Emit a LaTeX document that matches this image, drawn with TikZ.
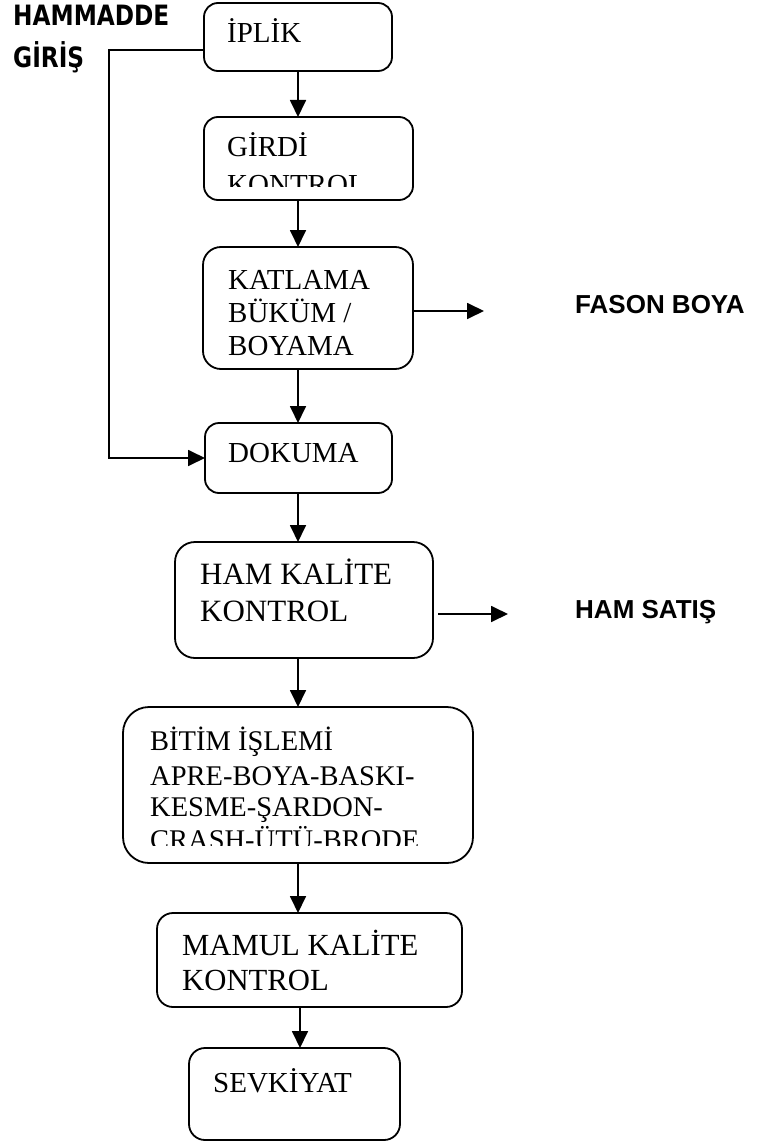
\documentclass[tikz,border=0pt]{standalone}
\usepackage{fontspec}
\setmainfont{Liberation Serif}
\newfontfamily\sidefont{Liberation Sans}
\newfontfamily\headfont{DejaVu Sans}
\newcommand\narrowhead[1]{\scalebox{0.83}[1]{#1}}
\usetikzlibrary{arrows.meta}
\tikzset{
  box/.style={draw, line width=1.8pt, rounded corners=14pt, inner sep=0pt, outer sep=0pt},
  arr/.style={line width=1.8pt, -{Triangle[length=17pt,width=16pt]}},
  lbl/.style={anchor=base west, inner sep=0pt, font=\fontsize{29}{31}\selectfont},
  side/.style={anchor=base west, inner sep=0pt, font=\sidefont\bfseries\fontsize{26}{29}\selectfont},
  head/.style={anchor=base west, inner sep=0pt, font=\headfont\bfseries\fontsize{28}{31}\selectfont},
}
\begin{document}
\begin{tikzpicture}[x=1pt,y=-1pt]
\useasboundingbox (0,0) rectangle (757,1142);

% process boxes
\node[box, minimum width=188pt, minimum height=68pt] (iplik) at (298,37) {};
\node[box, minimum width=209pt, minimum height=83pt] (girdi) at (308.5,158.5) {};
\node[box, minimum width=210pt, minimum height=122pt, rounded corners=18pt] (katlama) at (308,308) {};
\node[box, minimum width=187pt, minimum height=70pt] (dokuma) at (298.5,458) {};
\node[box, minimum width=258pt, minimum height=116pt, rounded corners=20pt] (ham) at (304,600) {};
\node[box, minimum width=350pt, minimum height=156pt, rounded corners=26pt] (bitim) at (298,785) {};
\node[box, minimum width=305pt, minimum height=94pt, rounded corners=16pt] (mamul) at (309.5,960) {};
\node[box, minimum width=211pt, minimum height=92pt, rounded corners=16pt] (sevk) at (294.5,1094) {};

% box texts
\node[lbl] (tiplik) at (227,43) {İPLİK};
\node[lbl] (tgirdi1) at (227,157) {GİRDİ};
\begin{scope}
  \clip (204,117) rectangle (413,187);
  \node[lbl] (tgirdi2) at (227,194) {KONTROL};
\end{scope}
\node[lbl] (tkat1) at (228,289) {KATLAMA};
\node[lbl] (tkat2) at (228,322) {BÜKÜM /};
\node[lbl] (tkat3) at (228,355) {BOYAMA};
\node[lbl] (tdok) at (228,462) {DOKUMA};
\node[lbl, font=\fontsize{31}{33}\selectfont] (tham1) at (200,584) {HAM KALİTE};
\node[lbl, font=\fontsize{31}{33}\selectfont] (tham2) at (200,621) {KONTROL};
\node[lbl, font=\fontsize{28.5}{30}\selectfont] (tbit1) at (150,750) {BİTİM İŞLEMİ};
\node[lbl, font=\fontsize{28.5}{30}\selectfont] (tbit2) at (150,785) {APRE-BOYA-BASKI-};
\node[lbl, font=\fontsize{28.5}{30}\selectfont] (tbit3) at (150,816) {KESME-ŞARDON-};
\begin{scope}
  \clip (123,707) rectangle (473,845);
  \node[lbl, font=\fontsize{28.5}{30}\selectfont] (tbit4) at (150,849) {CRASH-ÜTÜ-BRODE};
\end{scope}
\node[lbl, font=\fontsize{30.7}{33}\selectfont] (tmam1) at (182,955) {MAMUL KALİTE};
\node[lbl, font=\fontsize{30.7}{33}\selectfont] (tmam2) at (182,990) {KONTROL};
\node[lbl] (tsevk) at (213,1092) {SEVKİYAT};

% side labels
\node[head] (hammadde) at (13,26) {\narrowhead{HAMMADDE}};
\node[head] (giris) at (13,68) {\narrowhead{GİRİŞ}};
\node[side] (fason) at (575,313) {FASON BOYA};
\node[side] (hamsatis) at (575,618) {HAM SATIŞ};

% main flow
\draw[arr] (iplik.south) -- (iplik.south |- girdi.north);
\draw[arr] (girdi.south -| iplik.south) -- (katlama.north -| iplik.south);
\draw[arr] (katlama.south -| iplik.south) -- (dokuma.north -| iplik.south);
\draw[arr] (dokuma.south -| iplik.south) -- (ham.north -| iplik.south);
\draw[arr] (ham.south -| iplik.south) -- (bitim.north -| iplik.south);
\coordinate (lower) at (300,0);
\draw[arr] (bitim.south -| iplik.south) -- (mamul.north -| iplik.south);
\draw[arr] (mamul.south -| lower) -- (sevk.north -| lower);

% raw material bypass into weaving
\coordinate (bypassTop) at (109,50);
\draw[arr] (iplik.west |- bypassTop) -- (bypassTop) -- (bypassTop |- dokuma.west) -- (dokuma.west);

% side outputs
\coordinate (fasonIn) at (484,311);
\draw[arr] (katlama.east |- fasonIn) -- (fasonIn);
\coordinate (hamOut) at (438,614);
\coordinate (hamIn) at (508,614);
\draw[arr] (hamOut) -- (hamIn);
\end{tikzpicture}
\end{document}
